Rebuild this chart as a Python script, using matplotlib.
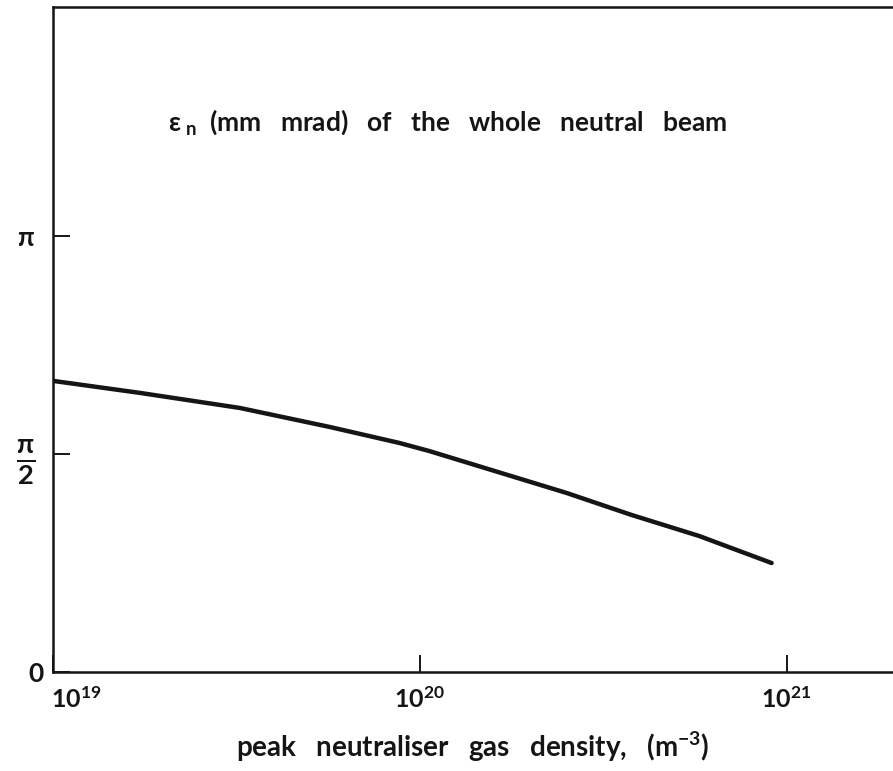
import numpy as np
import matplotlib.pyplot as plt
from matplotlib.ticker import NullLocator
from matplotlib.transforms import ScaledTranslation

plt.rcParams['font.family'] = ['Lato', 'DejaVu Sans']
plt.rcParams['font.weight'] = 'bold'
plt.rcParams['mathtext.fontset'] = 'custom'
plt.rcParams['mathtext.rm'] = 'Lato:bold'
plt.rcParams['mathtext.it'] = 'Lato:bold'
plt.rcParams['mathtext.bf'] = 'Lato:bold'
plt.rcParams['mathtext.default'] = 'regular'

# normalised emittance of the whole neutral beam vs neutraliser gas density
density = [1.0e19, 1.73e19, 3.23e19, 5.68e19, 8.79e19, 1.06e20, 2.51e20, 3.78e20, 5.77e20, 9.1e20]
emittance = [2.097, 2.010, 1.902, 1.765, 1.650, 1.592, 1.290, 1.131, 0.980, 0.785]   # mm mrad

x_ticks = [1e19, 1e20, 1e21]
x_tick_labels = [r'$10^{19}$', r'$10^{20}$', r'$10^{21}$']
y_ticks = [0, np.pi / 2, np.pi]
y_tick_labels = ['0', r'$\frac{\pi}{2}$', 'π']

ink = '#151515'

fig = plt.figure(figsize=(8.93, 7.71), dpi=100)
ax = fig.add_axes([53/893, 99/771, 1 - 53/893, 665/771])

ax.plot(density, emittance, color=ink, lw=3.2, solid_capstyle='round')

ax.set_xscale('log')
ax.set_xlim(1e19, 10**21.29)
ax.set_ylim(0, 4.79)
ax.spines['right'].set_visible(False)
for s in ax.spines.values():
    s.set_linewidth(1.8)
    s.set_color(ink)

ax.set_xticks(x_ticks, labels=x_tick_labels)
ax.xaxis.set_minor_locator(NullLocator())
ax.set_yticks(y_ticks, labels=y_tick_labels)
ax.tick_params(direction='in', length=12, width=1.4, labelsize=18, colors=ink)
ax.tick_params(axis='x', pad=10)
ax.tick_params(axis='y', pad=20, labelsize=19)
for lab in ax.get_yticklabels():
    lab.set_horizontalalignment('center')
ax.get_yticklabels()[1].set_fontsize(28)

# nudge 10^19 and 0 labels off the corner
lx = ax.get_xticklabels()[0]
lx.set_transform(lx.get_transform() + ScaledTranslation(17/72, 0, fig.dpi_scale_trans))
ly = ax.get_yticklabels()[0]
ly.set_transform(ly.get_transform() + ScaledTranslation(8/72, 0, fig.dpi_scale_trans))

ax.set_xlabel(r'peak   neutraliser   gas   density,   (m$^{-3}$)', fontsize=20,
              fontweight='bold', labelpad=13, color=ink)

fig.text(448/893, 1 - 122/771, r'$\varepsilon_{\,\,n}$  (mm   mrad)   of   the   whole   neutral   beam',
         fontsize=19, ha='center', va='center', color=ink)

fig.savefig('out.png', dpi=100)
plt.close(fig)
